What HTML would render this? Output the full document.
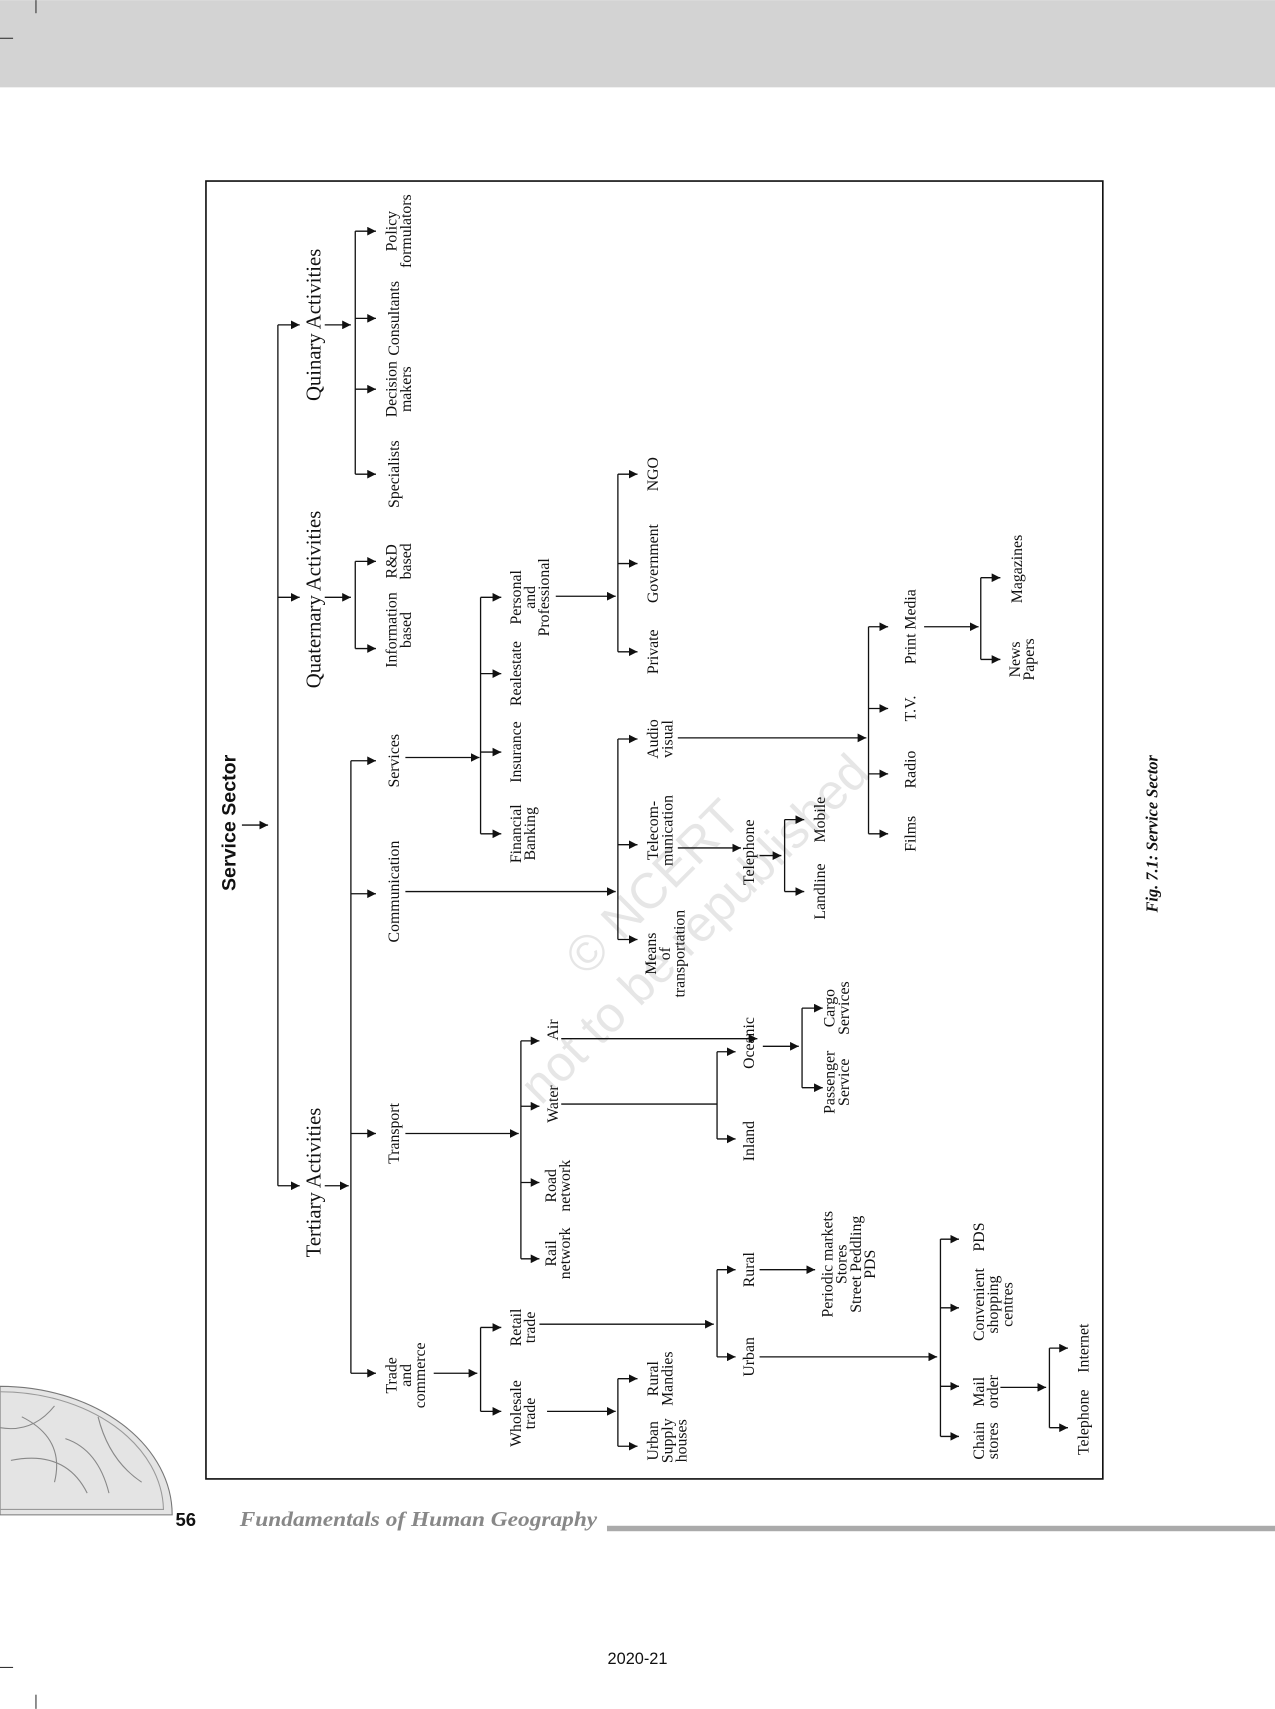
<!DOCTYPE html>
<html><head><meta charset="utf-8"><style>
html,body{margin:0;padding:0;background:#fff}
svg{display:block}
text{font-family:"Liberation Serif",serif;fill:#111}
</style></head><body>
<svg width="1275" height="1709" viewBox="0 0 1170 1568" xmlns="http://www.w3.org/2000/svg">
<defs>
<marker id="a" markerUnits="userSpaceOnUse" markerWidth="9" markerHeight="8" refX="8" refY="4" orient="auto"><path d="M0,0 L8,4 L0,8 z" fill="#111"/></marker>
</defs>
<rect x="0" y="0" width="1170" height="80" fill="#d3d3d3"/>
<line x1="33" y1="0" x2="33" y2="12" stroke="#333"/><line x1="0" y1="35" x2="12" y2="35" stroke="#333"/>
<line x1="33" y1="1555" x2="33" y2="1568" stroke="#333"/><line x1="0" y1="1530" x2="12" y2="1530" stroke="#333"/>
<!-- globe -->
<path d="M0,1390 L158,1390 A158,118 0 0 0 0,1272 z" fill="#e4e4e4" stroke="#777"/>
<path d="M0,1385 L150,1385 A150,110 0 0 0 0,1277" fill="none" stroke="#999"/>
<path d="M20,1300 q40,20 30,60 M60,1320 q30,10 40,50 M10,1340 q50,-10 70,30 M0,1310 q30,5 50,-20 M90,1300 q10,40 40,60" stroke="#888" fill="none"/>
<rect x="189" y="166" width="823" height="1191" fill="none" stroke="#111" stroke-width="1.5"/>
<!-- watermark -->
<g transform="translate(610,825) rotate(-45)" opacity="0.18"><text x="0" y="0" text-anchor="middle" style="font-family:'Liberation Sans',sans-serif;font-size:46px;fill:#777">© NCERT</text><text x="0" y="54" text-anchor="middle" style="font-family:'Liberation Sans',sans-serif;font-size:46px;fill:#777">not to be republished</text></g>
<g stroke="#111" stroke-width="1.2" fill="none">
<line x1="222" y1="757" x2="246" y2="757" marker-end="url(#a)"/>
<line x1="255" y1="298" x2="255" y2="1088"/>
<line x1="255" y1="298" x2="275" y2="298" marker-end="url(#a)"/>
<line x1="255" y1="548" x2="275" y2="548" marker-end="url(#a)"/>
<line x1="255" y1="1088" x2="275" y2="1088" marker-end="url(#a)"/>
<line x1="298" y1="298" x2="322" y2="298" marker-end="url(#a)"/>
<line x1="326" y1="212" x2="326" y2="435"/>
<line x1="326" y1="212" x2="345" y2="212" marker-end="url(#a)"/>
<line x1="326" y1="292" x2="345" y2="292" marker-end="url(#a)"/>
<line x1="326" y1="357" x2="345" y2="357" marker-end="url(#a)"/>
<line x1="326" y1="435" x2="345" y2="435" marker-end="url(#a)"/>
<line x1="298" y1="548" x2="322" y2="548" marker-end="url(#a)"/>
<line x1="326" y1="515" x2="326" y2="595"/>
<line x1="326" y1="515" x2="345" y2="515" marker-end="url(#a)"/>
<line x1="326" y1="595" x2="345" y2="595" marker-end="url(#a)"/>
<line x1="298" y1="1088" x2="320" y2="1088" marker-end="url(#a)"/>
<line x1="322" y1="698" x2="322" y2="1260"/>
<line x1="322" y1="698" x2="345" y2="698" marker-end="url(#a)"/>
<line x1="322" y1="820" x2="345" y2="820" marker-end="url(#a)"/>
<line x1="322" y1="1040" x2="345" y2="1040" marker-end="url(#a)"/>
<line x1="322" y1="1260" x2="345" y2="1260" marker-end="url(#a)"/>
<line x1="372" y1="695" x2="440" y2="695" marker-end="url(#a)"/>
<line x1="441" y1="548" x2="441" y2="765"/>
<line x1="441" y1="548" x2="460" y2="548" marker-end="url(#a)"/>
<line x1="441" y1="618" x2="460" y2="618" marker-end="url(#a)"/>
<line x1="441" y1="690" x2="460" y2="690" marker-end="url(#a)"/>
<line x1="441" y1="765" x2="460" y2="765" marker-end="url(#a)"/>
<line x1="510" y1="547" x2="565" y2="547" marker-end="url(#a)"/>
<line x1="567" y1="435" x2="567" y2="598"/>
<line x1="567" y1="435" x2="585" y2="435" marker-end="url(#a)"/>
<line x1="567" y1="517" x2="585" y2="517" marker-end="url(#a)"/>
<line x1="567" y1="598" x2="585" y2="598" marker-end="url(#a)"/>
<line x1="372" y1="818" x2="565" y2="818" marker-end="url(#a)"/>
<line x1="567" y1="678" x2="567" y2="862"/>
<line x1="567" y1="678" x2="585" y2="678" marker-end="url(#a)"/>
<line x1="567" y1="775" x2="585" y2="775" marker-end="url(#a)"/>
<line x1="567" y1="862" x2="585" y2="862" marker-end="url(#a)"/>
<line x1="622" y1="677" x2="795" y2="677" marker-end="url(#a)"/>
<line x1="797" y1="575" x2="797" y2="765"/>
<line x1="797" y1="575" x2="815" y2="575" marker-end="url(#a)"/>
<line x1="797" y1="650" x2="815" y2="650" marker-end="url(#a)"/>
<line x1="797" y1="710" x2="815" y2="710" marker-end="url(#a)"/>
<line x1="797" y1="765" x2="815" y2="765" marker-end="url(#a)"/>
<line x1="848" y1="575" x2="898" y2="575" marker-end="url(#a)"/>
<line x1="900" y1="530" x2="900" y2="605"/>
<line x1="900" y1="530" x2="918" y2="530" marker-end="url(#a)"/>
<line x1="900" y1="605" x2="918" y2="605" marker-end="url(#a)"/>
<line x1="622" y1="778" x2="680" y2="778" marker-end="url(#a)"/>
<line x1="697" y1="785" x2="717" y2="785" marker-end="url(#a)"/>
<line x1="720" y1="752" x2="720" y2="818"/>
<line x1="720" y1="752" x2="738" y2="752" marker-end="url(#a)"/>
<line x1="720" y1="818" x2="738" y2="818" marker-end="url(#a)"/>
<line x1="372" y1="1040" x2="476" y2="1040" marker-end="url(#a)"/>
<line x1="478" y1="955" x2="478" y2="1155"/>
<line x1="478" y1="955" x2="495" y2="955" marker-end="url(#a)"/>
<line x1="478" y1="1015" x2="495" y2="1015" marker-end="url(#a)"/>
<line x1="478" y1="1085" x2="495" y2="1085" marker-end="url(#a)"/>
<line x1="478" y1="1155" x2="495" y2="1155" marker-end="url(#a)"/>
<line x1="515" y1="953" x2="695" y2="953" marker-end="url(#a)"/>
<line x1="515" y1="1013" x2="658" y2="1013"/>
<line x1="658" y1="965" x2="658" y2="1045"/>
<line x1="658" y1="965" x2="675" y2="965" marker-end="url(#a)"/>
<line x1="658" y1="1045" x2="675" y2="1045" marker-end="url(#a)"/>
<line x1="700" y1="960" x2="733" y2="960" marker-end="url(#a)"/>
<line x1="736" y1="925" x2="736" y2="998"/>
<line x1="736" y1="925" x2="755" y2="925" marker-end="url(#a)"/>
<line x1="736" y1="998" x2="755" y2="998" marker-end="url(#a)"/>
<line x1="398" y1="1260" x2="438" y2="1260" marker-end="url(#a)"/>
<line x1="441" y1="1218" x2="441" y2="1295"/>
<line x1="441" y1="1218" x2="460" y2="1218" marker-end="url(#a)"/>
<line x1="441" y1="1295" x2="460" y2="1295" marker-end="url(#a)"/>
<line x1="495" y1="1215" x2="655" y2="1215" marker-end="url(#a)"/>
<line x1="658" y1="1165" x2="658" y2="1245"/>
<line x1="658" y1="1165" x2="675" y2="1165" marker-end="url(#a)"/>
<line x1="658" y1="1245" x2="675" y2="1245" marker-end="url(#a)"/>
<line x1="697" y1="1165" x2="748" y2="1165" marker-end="url(#a)"/>
<line x1="697" y1="1245" x2="860" y2="1245" marker-end="url(#a)"/>
<line x1="863" y1="1137" x2="863" y2="1318"/>
<line x1="863" y1="1137" x2="880" y2="1137" marker-end="url(#a)"/>
<line x1="863" y1="1200" x2="880" y2="1200" marker-end="url(#a)"/>
<line x1="863" y1="1272" x2="880" y2="1272" marker-end="url(#a)"/>
<line x1="863" y1="1318" x2="880" y2="1318" marker-end="url(#a)"/>
<line x1="918" y1="1273" x2="960" y2="1273" marker-end="url(#a)"/>
<line x1="963" y1="1237" x2="963" y2="1310"/>
<line x1="963" y1="1237" x2="980" y2="1237" marker-end="url(#a)"/>
<line x1="963" y1="1310" x2="980" y2="1310" marker-end="url(#a)"/>
<line x1="502" y1="1295" x2="565" y2="1295" marker-end="url(#a)"/>
<line x1="567" y1="1265" x2="567" y2="1327"/>
<line x1="567" y1="1265" x2="585" y2="1265" marker-end="url(#a)"/>
<line x1="567" y1="1327" x2="585" y2="1327" marker-end="url(#a)"/>
</g>
<g font-size="14.5" text-anchor="middle">
<text transform="translate(216,755) rotate(-90)" style="font-family:'Liberation Sans',sans-serif;font-weight:bold;font-size:18px">Service Sector</text>
<text transform="translate(294,298) rotate(-90)" font-size="19">Quinary Activities</text>
<text transform="translate(294,550) rotate(-90)" font-size="19">Quaternary Activities</text>
<text transform="translate(294,1085) rotate(-90)" font-size="19">Tertiary Activities</text>
<text transform="translate(364,212) rotate(-90)"><tspan x="0">Policy</tspan><tspan x="0" dy="13">formulators</tspan></text>
<text transform="translate(366,292) rotate(-90)">Consultants</text>
<text transform="translate(364,357) rotate(-90)"><tspan x="0">Decision</tspan><tspan x="0" dy="13">makers</tspan></text>
<text transform="translate(366,435) rotate(-90)">Specialists</text>
<text transform="translate(364,515) rotate(-90)"><tspan x="0">R&amp;D</tspan><tspan x="0" dy="13">based</tspan></text>
<text transform="translate(364,578) rotate(-90)"><tspan x="0">Information</tspan><tspan x="0" dy="13">based</tspan></text>
<text transform="translate(366,698) rotate(-90)">Services</text>
<text transform="translate(366,818) rotate(-90)">Communication</text>
<text transform="translate(366,1040) rotate(-90)">Transport</text>
<text transform="translate(364,1262) rotate(-90)"><tspan x="0">Trade</tspan><tspan x="0" dy="13">and</tspan><tspan x="0" dy="13">commerce</tspan></text>
<text transform="translate(478,548) rotate(-90)"><tspan x="0">Personal</tspan><tspan x="0" dy="13">and</tspan><tspan x="0" dy="13">Professional</tspan></text>
<text transform="translate(478,618) rotate(-90)">Realestate</text>
<text transform="translate(478,690) rotate(-90)">Insurance</text>
<text transform="translate(478,765) rotate(-90)"><tspan x="0">Financial</tspan><tspan x="0" dy="13">Banking</tspan></text>
<text transform="translate(604,435) rotate(-90)">NGO</text>
<text transform="translate(604,517) rotate(-90)">Government</text>
<text transform="translate(604,598) rotate(-90)">Private</text>
<text transform="translate(604,678) rotate(-90)"><tspan x="0">Audio</tspan><tspan x="0" dy="13">visual</tspan></text>
<text transform="translate(604,762) rotate(-90)"><tspan x="0">Telecom-</tspan><tspan x="0" dy="13">munication</tspan></text>
<text transform="translate(602,875) rotate(-90)"><tspan x="0">Means</tspan><tspan x="0" dy="13">of</tspan><tspan x="0" dy="13">transportation</tspan></text>
<text transform="translate(692,782) rotate(-90)">Telephone</text>
<text transform="translate(757,752) rotate(-90)">Mobile</text>
<text transform="translate(757,818) rotate(-90)">Landline</text>
<text transform="translate(840,575) rotate(-90)">Print Media</text>
<text transform="translate(840,650) rotate(-90)">T.V.</text>
<text transform="translate(840,706) rotate(-90)">Radio</text>
<text transform="translate(840,765) rotate(-90)">Films</text>
<text transform="translate(938,522) rotate(-90)">Magazines</text>
<text transform="translate(936,605) rotate(-90)"><tspan x="0">News</tspan><tspan x="0" dy="13">Papers</tspan></text>
<text transform="translate(512,945) rotate(-90)">Air</text>
<text transform="translate(512,1013) rotate(-90)">Water</text>
<text transform="translate(510,1088) rotate(-90)"><tspan x="0">Road</tspan><tspan x="0" dy="13">network</tspan></text>
<text transform="translate(510,1150) rotate(-90)"><tspan x="0">Rail</tspan><tspan x="0" dy="13">network</tspan></text>
<text transform="translate(692,957) rotate(-90)">Oceanic</text>
<text transform="translate(692,1047) rotate(-90)">Inland</text>
<text transform="translate(766,925) rotate(-90)"><tspan x="0">Cargo</tspan><tspan x="0" dy="13">Services</tspan></text>
<text transform="translate(766,993) rotate(-90)"><tspan x="0">Passenger</tspan><tspan x="0" dy="13">Service</tspan></text>
<text transform="translate(478,1218) rotate(-90)"><tspan x="0">Retail</tspan><tspan x="0" dy="13">trade</tspan></text>
<text transform="translate(478,1297) rotate(-90)"><tspan x="0">Wholesale</tspan><tspan x="0" dy="13">trade</tspan></text>
<text transform="translate(604,1265) rotate(-90)"><tspan x="0">Rural</tspan><tspan x="0" dy="13">Mandies</tspan></text>
<text transform="translate(604,1322) rotate(-90)"><tspan x="0">Urban</tspan><tspan x="0" dy="13">Supply</tspan><tspan x="0" dy="13">houses</tspan></text>
<text transform="translate(692,1165) rotate(-90)">Rural</text>
<text transform="translate(692,1245) rotate(-90)">Urban</text>
<text transform="translate(764,1160) rotate(-90)"><tspan x="0">Periodic markets</tspan><tspan x="0" dy="13">Stores</tspan><tspan x="0" dy="13">Street Peddling</tspan><tspan x="0" dy="13">PDS</tspan></text>
<text transform="translate(903,1135) rotate(-90)">PDS</text>
<text transform="translate(903,1197) rotate(-90)"><tspan x="0">Convenient</tspan><tspan x="0" dy="13">shopping</tspan><tspan x="0" dy="13">centres</tspan></text>
<text transform="translate(903,1277) rotate(-90)"><tspan x="0">Mail</tspan><tspan x="0" dy="13">order</tspan></text>
<text transform="translate(903,1322) rotate(-90)"><tspan x="0">Chain</tspan><tspan x="0" dy="13">stores</tspan></text>
<text transform="translate(999,1237) rotate(-90)">Internet</text>
<text transform="translate(999,1305) rotate(-90)">Telephone</text>
<text transform="translate(1062,765) rotate(-90)" style="font-weight:bold;font-style:italic;font-size:15px">Fig. 7.1: Service Sector</text>
</g>
<text x="161" y="1400" style="font-family:'Liberation Sans',sans-serif;font-weight:bold;font-size:17px">56</text>
<text x="220" y="1400" textLength="328" lengthAdjust="spacingAndGlyphs" style="font-weight:bold;font-style:italic;font-size:19px;fill:#888">Fundamentals of Human Geography</text>
<rect x="557" y="1400" width="613" height="5" fill="#aaa"/>
<text x="585" y="1527" text-anchor="middle" style="font-family:'Liberation Sans',sans-serif;font-size:15px">2020-21</text>
</svg>
</body></html>
